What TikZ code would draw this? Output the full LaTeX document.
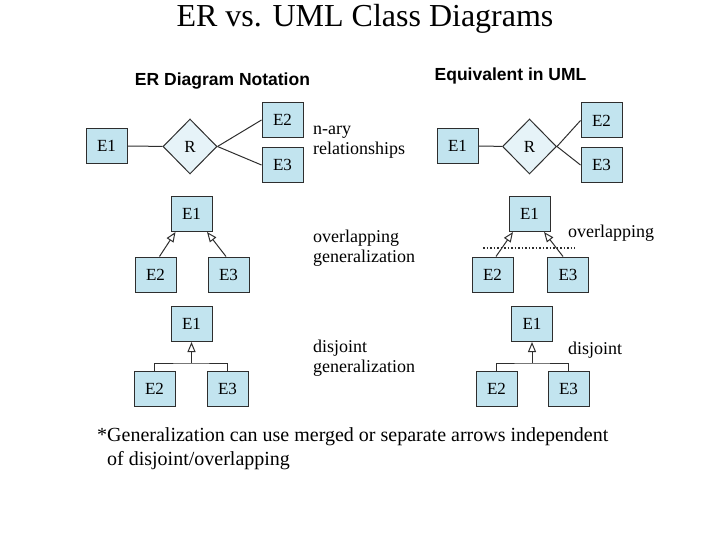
\documentclass[tikz,border=0pt]{standalone}
\usepackage{fontspec}
\setmainfont{Liberation Serif}
\setsansfont{Liberation Sans}
\usetikzlibrary{positioning, arrows.meta, shapes.geometric}
\definecolor{entityBlue}{HTML}{C2E4EF}
\definecolor{relBlue}{HTML}{E6F3F8}
\definecolor{lineGray}{HTML}{2E2E2E}

\begin{document}
\begin{tikzpicture}[
  x=1pt, y=-1pt,
  entity/.style={rectangle, draw=lineGray, line width=1pt, fill=entityBlue,
                 minimum width=41pt, minimum height=35pt, inner sep=0pt,
                 font=\fontsize{17}{17}\selectfont},
  rel/.style={diamond, draw=lineGray, line width=1pt, fill=relBlue,
              minimum width=54pt, minimum height=55pt, inner sep=0pt,
              font=\fontsize{17}{17}\selectfont},
  link/.style={line width=1pt, draw=lineGray},
  isa/.style={-{Triangle[open, length=10pt, width=8pt]}, line width=1pt, draw=lineGray},
  label/.style={anchor=west, align=left, inner sep=0pt, font=\fontsize{18}{20}\selectfont},
  header/.style={font=\sffamily\bfseries\fontsize{17.5}{20}\selectfont}
]
\useasboundingbox (0,0) rectangle (720,540);

\node[font=\fontsize{32}{32}\selectfont] (title) at (365,19) {ER vs. UML Class Diagrams};
\node[header] (erhead) at (222.5,81) {ER Diagram Notation};
\node[header] (umlhead) at (510.5,76) {Equivalent in UML};

% n-ary relationships
\node[entity] (erE1) at (106.5,146) {E1};
\node[rel] (erR) at (190,146.5) {R};
\node[entity] (erE2) at (282.5,120) {E2};
\node[entity] (erE3) at (282.5,165) {E3};
\draw[link] (erE1) -- (erR);
\draw[link] (erR.east) -- (erE2.west);
\draw[link] (erR.east) -- (erE3.west);
\node[label] (nary) at (313,142) {n-ary\\relationships};

\node[entity] (umlE1) at (457.5,146) {E1};
\node[rel] (umlR) at (529.5,146.5) {R};
\node[entity] (umlE2) at (601.5,120.5) {E2};
\node[entity] (umlE3) at (601.5,165) {E3};
\draw[link] (umlE1) -- (umlR);
\draw[link] (umlR.east) -- (umlE2.west);
\draw[link] (umlR.east) -- (umlE3.west);

% overlapping generalization
\node[entity] (ovE1) at (191.5,214) {E1};
\node[entity] (ovE2) at (155.5,274.5) {E2};
\node[entity] (ovE3) at (228.5,274.5) {E3};
\draw[isa] ([xshift=4pt]ovE2.north) -- ([xshift=-16pt]ovE1.south);
\draw[isa] ([xshift=-2.5pt]ovE3.north) -- ([xshift=15.5pt]ovE1.south);
\node[label] (ovtext) at (313,248) {overlapping\\generalization};

\node[entity] (umlOvE1) at (529.5,214) {E1};
\node[entity] (umlOvE2) at (492.5,274.5) {E2};
\node[entity] (umlOvE3) at (568,274.5) {E3};
\draw[isa] ([xshift=3.5pt]umlOvE2.north) -- ([xshift=-16.5pt]umlOvE1.south);
\draw[isa] ([xshift=-5pt]umlOvE3.north) -- ([xshift=14.5pt]umlOvE1.south);
\coordinate (ovLeft) at (483,248);
\coordinate (ovRight) at (575,248);
\draw[line width=1.3pt, draw=lineGray, dash pattern=on 1.5pt off 2pt] (ovLeft) -- (ovRight);
\node[label] (umlOvText) at (568,233) {overlapping};

% disjoint generalization
\node[entity] (djE1) at (191.5,324) {E1};
\node[entity] (djE2) at (154.5,388.5) {E2};
\node[entity] (djE3) at (227.5,388.5) {E3};
\coordinate (djJoin) at (191.5,363);
\draw[link] (djE2.north) |- (djJoin) -| (djE3.north);
\draw[isa] (djJoin) -- (djE1);
\node[label] (djtext) at (313,358) {disjoint\\generalization};

\node[entity] (umlDjE1) at (532,324) {E1};
\node[entity] (umlDjE2) at (496.5,388.5) {E2};
\node[entity] (umlDjE3) at (568.5,388.5) {E3};
\coordinate (umlDjJoin) at (532,363);
\draw[link] (umlDjE2.north) |- (umlDjJoin) -| (umlDjE3.north);
\draw[isa] (umlDjJoin) -- (umlDjE1);
\node[label] (umlDjText) at (568,350) {disjoint};

\node[anchor=west, align=left, inner sep=0pt, font=\fontsize{20}{24}\selectfont] (remark) at (97,449)
  {*Generalization can use merged or separate arrows independent\\
   \hspace*{10pt}of disjoint/overlapping};
\end{tikzpicture}
\end{document}
